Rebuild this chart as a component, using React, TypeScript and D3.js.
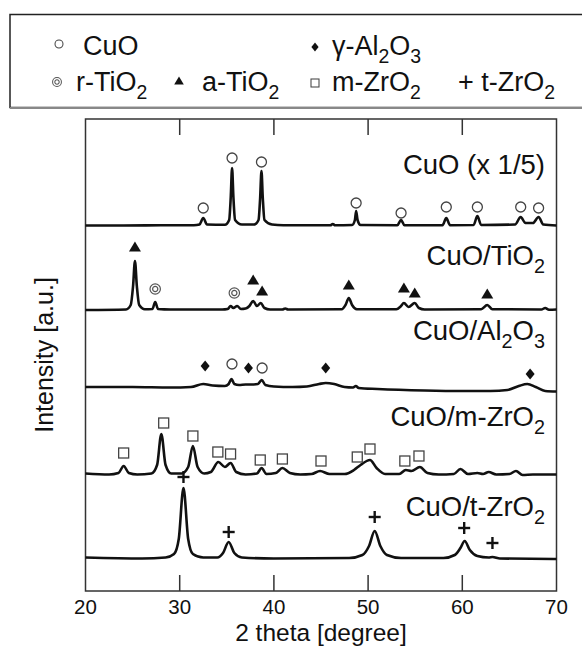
import React from 'react';
import * as d3 from 'd3';

// ---------- DATA (2θ in degrees, intensity in arbitrary units above each pattern's baseline) ----------
const xTickValues = [20, 30, 40, 50, 60, 70];

const patternNames = ['CuO', 'CuO/TiO2', 'CuO/Al2O3', 'CuO/m-ZrO2', 'CuO/t-ZrO2'];
const patternOffsets = [365, 281, 199, 116, 32];

const cuoPattern: [number, number][] = [
  [20, 0.5], [24, 0.5], [28, 0.7], [31.5, 0.8], [32.1, 1.5], [32.5, 8], [32.9, 1.5], [34.8, 1.2],
  [35.25, 6], [35.42, 29], [35.56, 58], [35.7, 29], [35.88, 6], [36.6, 1.5], [37.9, 1.5],
  [38.37, 6], [38.54, 28], [38.68, 55], [38.82, 28], [39.0, 6], [39.8, 1.5], [41, 0.8],
  [46.0, 0.8], [46.25, 2], [46.5, 0.8], [48.3, 1], [48.6, 6], [48.73, 15], [48.88, 6], [49.2, 1],
  [53.1, 0.8], [53.5, 6], [53.85, 0.8], [57.9, 0.8], [58.3, 8], [58.7, 0.8], [61.2, 1], [61.6, 10],
  [62.0, 1], [65.6, 1.5], [66.2, 9], [66.7, 3], [67.5, 3], [68.1, 9], [68.6, 1.5], [70, 0.5],
];

const cuoTiO2Pattern: [number, number][] = [
  [20, 0], [24.3, 0.5], [24.8, 5], [25.05, 24], [25.25, 49], [25.45, 24], [25.7, 5], [26.3, 0.8],
  [27.1, 1], [27.4, 8], [27.7, 1], [29, 0.5], [34.5, 0.5], [35.1, 1], [35.4, 4], [35.7, 2],
  [36.1, 4], [36.5, 1], [37.0, 1.5], [37.4, 4], [37.8, 9], [38.2, 4], [38.6, 7], [39.0, 2],
  [39.6, 0.5], [40.9, 0.5], [41.2, 1.5], [41.5, 0.5], [47.2, 0.8], [47.6, 5], [47.95, 12],
  [48.3, 5], [48.8, 0.8], [53.0, 0.8], [53.45, 3.5], [53.8, 7], [54.3, 3], [54.95, 7], [55.4, 2],
  [56, 0.5], [62.0, 0.8], [62.65, 5], [63.2, 0.8], [68.4, 0.5], [68.8, 2], [69.2, 0.3], [70, 0.5],
];

const cuoAl2O3Pattern: [number, number][] = [
  [20, 5], [25, 5], [29, 4.5], [31.2, 5], [32.5, 8], [33.5, 6.5], [34.8, 6], [35.2, 8], [35.5, 13],
  [35.8, 8], [36.3, 7], [37.0, 7.5], [37.6, 7.5], [38.3, 8], [38.7, 12], [39.1, 7], [40, 5.5],
  [42, 5], [43.5, 5.5], [44.8, 8], [45.5, 9], [46.4, 8], [47.5, 5], [48.4, 4.5], [48.7, 6],
  [49.0, 4], [51, 3], [56, 1.5], [60, 1], [63, 1], [64.8, 2], [66.0, 6], [66.9, 8], [67.8, 5],
  [68.8, 1], [70, 0.5],
];

const cuoMZrO2Pattern: [number, number][] = [
  [20, 1.5], [22.5, 0.5], [23.5, 2], [24.05, 9], [24.6, 2], [25.5, 0.5], [27.0, 1.5], [27.6, 10],
  [28.05, 41], [28.5, 10], [29.1, 1.5], [30.2, 1.5], [30.9, 8], [31.4, 29], [31.9, 8], [32.6, 1.5],
  [33.3, 3], [34.1, 13], [34.8, 8], [35.4, 12], [36.0, 3], [37.0, 0.5], [38.2, 1.5], [38.7, 7],
  [39.2, 1], [40.2, 2], [40.9, 7], [41.7, 2], [42.8, 0.5], [44.0, 1], [44.9, 4], [45.9, 1],
  [47.5, 1], [48.5, 5], [49.2, 10], [50.2, 15], [50.9, 7], [51.8, 1], [53.3, 1], [54.0, 5],
  [54.6, 4], [55.5, 8], [56.3, 2], [57.5, 0.5], [59.1, 1], [59.8, 6], [60.6, 1], [61.6, 2],
  [62.2, 1], [62.8, 3], [63.6, 0.5], [65.0, 1], [65.7, 4], [66.4, 0], [67.5, 0.5], [70, 0.5],
];

const cuoTZrO2Pattern: [number, number][] = [
  [20, 1.5], [26, 0.5], [28.5, 1.5], [29.4, 5], [29.9, 20], [30.4, 71], [30.9, 20], [31.4, 5],
  [32.5, 1.5], [34.0, 1.5], [34.6, 6], [35.2, 17], [35.8, 6], [36.6, 1.5], [40, 0.5], [48, 1],
  [49.4, 4], [50.1, 13], [50.7, 28], [51.3, 13], [52.0, 4], [53.5, 1], [58.0, 1], [59.2, 4],
  [59.8, 11], [60.25, 18], [60.8, 9], [61.6, 3], [62.8, 1.5], [63.2, 2], [64, 0.5], [70, 0],
];

const patterns = [cuoPattern, cuoTiO2Pattern, cuoAl2O3Pattern, cuoMZrO2Pattern, cuoTZrO2Pattern];

// phase markers: [2θ, absolute intensity]
const cuoMarks: [number, number][] = [
  [32.5, 383], [35.56, 433], [38.68, 429], [48.73, 388], [53.5, 378], [58.3, 384], [61.6, 384],
  [66.2, 384], [68.1, 383], [35.55, 227], [38.75, 223],
];
const rTiO2Marks: [number, number][] = [[27.4, 302], [35.8, 298]];
const aTiO2Marks: [number, number][] = [
  [25.25, 344], [37.8, 311], [38.75, 300], [47.95, 306], [53.8, 303], [54.95, 298], [62.65, 297],
];
const al2o3Marks: [number, number][] = [[32.7, 225], [37.3, 223], [45.5, 223], [67.2, 217]];
const mZrO2Marks: [number, number][] = [
  [24.05, 138], [28.3, 168], [31.4, 155], [34.05, 139], [35.4, 137], [38.55, 131], [40.9, 132],
  [45.0, 130], [48.85, 134], [50.2, 142], [53.9, 130], [55.4, 135],
];
const tZrO2Marks: [number, number][] = [[30.4, 114], [35.2, 59], [50.7, 74], [60.2, 63], [63.2, 48]];

// labels as [text, isSubscript] parts
const curveLabels: [string, boolean][][] = [
  [['CuO (x 1/5)', false]],
  [['CuO/TiO', false], ['2', true]],
  [['CuO/Al', false], ['2', true], ['O', false], ['3', true]],
  [['CuO/m-ZrO', false], ['2', true]],
  [['CuO/t-ZrO', false], ['2', true]],
];
const curveLabelBaselines = [417, 326, 251, 165, 75]; // in intensity units

const legendLabels: [string, boolean][][] = [
  [['CuO', false]],
  [['γ-Al', false], ['2', true], ['O', false], ['3', true]],
  [['r-TiO', false], ['2', true]],
  [['a-TiO', false], ['2', true]],
  [['m-ZrO', false], ['2', true]],
  [['+ t-ZrO', false], ['2', true]],
];

// ---------- LAYOUT ----------
const W = 582;
const H = 646;
const FONT = '"Liberation Sans", Arial, Helvetica, sans-serif';
const PL = 85.5, PR = 556.5, PT = 119, PB = 591;

const xScale = d3.scaleLinear().domain([20, 70]).range([PL, PR]);
const yScale = d3.scaleLinear().domain([0, 472]).range([PB, PT]);

function Rich({ parts, x, y, size, anchor }: { parts: [string, boolean][]; x: number; y: number; size: number; anchor?: string }) {
  let shifted = false;
  return (
    <text x={x} y={y} fontSize={size} fontFamily={FONT} textAnchor={anchor || 'start'} fill="#111">
      {parts.map(([t, sub], i) => {
        let dy = 0;
        if (sub && !shifted) { dy = size * 0.3; shifted = true; }
        else if (!sub && shifted) { dy = -size * 0.3; shifted = false; }
        return (
          <tspan key={i} dy={dy} fontSize={sub ? size * 0.72 : size}>{t}</tspan>
        );
      })}
    </text>
  );
}

type Kind = 'circle' | 'dcircle' | 'tri' | 'diamond' | 'square' | 'plus';

function Marker({ kind, x, y, s = 1 }: { kind: Kind; x: number; y: number; s?: number }) {
  const t = `translate(${x},${y}) scale(${s})`;
  switch (kind) {
    case 'circle':
      return <circle transform={t} r={5} fill="white" stroke="#444" strokeWidth={1.3} />;
    case 'dcircle':
      return (
        <g transform={t}>
          <circle r={5.2} fill="white" stroke="#555" strokeWidth={1.2} />
          <circle r={2.6} fill="white" stroke="#555" strokeWidth={1.2} />
        </g>
      );
    case 'tri':
      return <path transform={t} d="M0,-5.5 L6,4.5 L-6,4.5 Z" fill="#111" />;
    case 'diamond':
      return <path transform={t} d="M0,-5.5 L4.5,0 L0,5.5 L-4.5,0 Z" fill="#111" />;
    case 'square':
      return <rect transform={t} x={-5} y={-5} width={10} height={10} fill="white" stroke="#444" strokeWidth={1.3} />;
    case 'plus':
      return (
        <g transform={t} stroke="#111" strokeWidth={2.4}>
          <line x1={-6} x2={6} y1={0} y2={0} />
          <line x1={0} x2={0} y1={-6} y2={6} />
        </g>
      );
  }
  return null;
}

export default function App() {
  const line = d3
    .line<[number, number]>()
    .x((d) => xScale(d[0]))
    .y((d) => d[1])
    .curve(d3.curveMonotoneX);

  const markSets: [Kind, [number, number][]][] = [
    ['circle', cuoMarks],
    ['dcircle', rTiO2Marks],
    ['tri', aTiO2Marks],
    ['diamond', al2o3Marks],
    ['square', mZrO2Marks],
    ['plus', tZrO2Marks],
  ];

  const innerTicks = xTickValues.filter((v) => v !== 20 && v !== 70);

  return (
    <svg width={W} height={H} style={{ position: 'absolute', left: 0, top: 0, background: 'white' }}>
      {/* legend box */}
      <rect x={10} y={14.5} width={620} height={93} fill="white" stroke="#222" strokeWidth={1.5} />
      <line x1={10} x2={W} y1={108} y2={108} stroke="#888" strokeWidth={2} />
      <Marker kind="circle" x={59} y={44} s={0.8} />
      <Rich parts={legendLabels[0]} x={83} y={55} size={27} />
      <Marker kind="diamond" x={315} y={47} s={0.8} />
      <Rich parts={legendLabels[1]} x={332} y={55} size={27} />
      <Marker kind="dcircle" x={57} y={82} s={0.85} />
      <Rich parts={legendLabels[2]} x={76} y={91} size={27} />
      <Marker kind="tri" x={179} y={81} s={0.8} />
      <Rich parts={legendLabels[3]} x={202} y={91} size={27} />
      <Marker kind="square" x={315} y={83} s={0.8} />
      <Rich parts={legendLabels[4]} x={332} y={91} size={27} />
      <Rich parts={legendLabels[5]} x={458} y={91} size={27} />

      {/* frame */}
      <rect x={PL} y={PT} width={PR - PL} height={PB - PT} fill="none" stroke="#333" strokeWidth={1.5} />
      {innerTicks.map((v) => (
        <g key={v} stroke="#333" strokeWidth={1.5}>
          <line x1={xScale(v)} x2={xScale(v)} y1={PB} y2={PB - 16} />
          <line x1={xScale(v)} x2={xScale(v)} y1={PT} y2={PT + 16} />
        </g>
      ))}
      {xTickValues.map((v) => (
        <text key={v} x={xScale(v)} y={614} fontSize={20.5} fontFamily={FONT} textAnchor="middle" fill="#111">
          {v}
        </text>
      ))}
      <text x={(PL + PR) / 2} y={641} fontSize={24.5} fontFamily={FONT} textAnchor="middle" fill="#111">
        2 theta [degree]
      </text>
      <text
        transform={`translate(53,${(PT + PB) / 2}) rotate(-90)`}
        fontSize={25}
        fontFamily={FONT}
        textAnchor="middle"
        fill="#111"
      >
        Intensity [a.u.]
      </text>

      {/* patterns */}
      {patterns.map((p, i) => (
        <path
          key={patternNames[i]}
          d={line(p.map((d) => [d[0], yScale(d[1] + patternOffsets[i])] as [number, number])) || ''}
          fill="none"
          stroke="#111"
          strokeWidth={2.6}
          strokeLinejoin="round"
        />
      ))}

      {/* curve labels */}
      {curveLabels.map((parts, i) => (
        <Rich key={i} parts={parts} x={545} y={yScale(curveLabelBaselines[i])} size={27.5} anchor="end" />
      ))}

      {/* phase markers */}
      {markSets.map(([kind, pts]) =>
        pts.map((d, j) => <Marker key={kind + j} kind={kind} x={xScale(d[0])} y={yScale(d[1])} />)
      )}
    </svg>
  );
}
